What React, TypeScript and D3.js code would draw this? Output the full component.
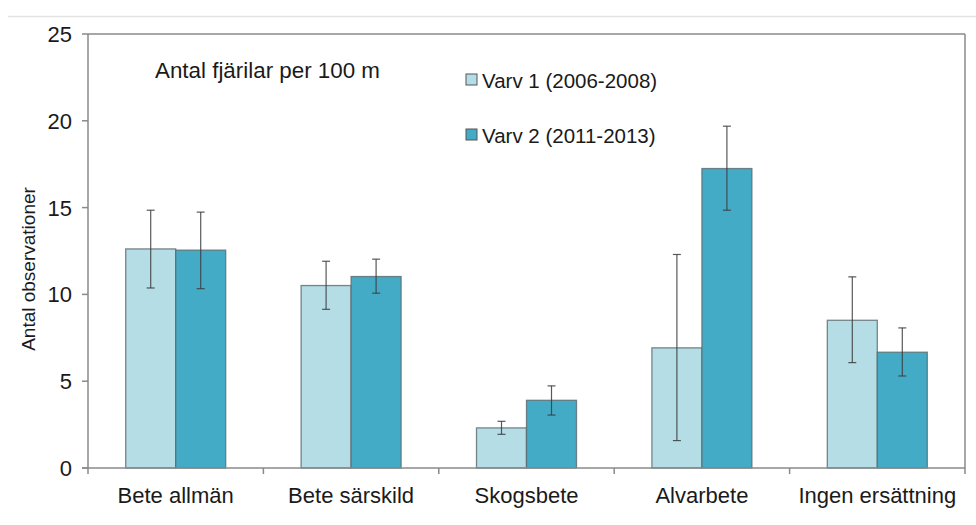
import React from "react";
import * as d3 from "d3";

const categories = ["Bete allmän", "Bete särskild", "Skogsbete", "Alvarbete", "Ingen ersättning"];
const seriesNames = ["Varv 1 (2006-2008)", "Varv 2 (2011-2013)"];
const varv1 = [12.62, 10.51, 2.31, 6.92, 8.51];
const varv1Low = [10.37, 9.14, 1.94, 1.58, 6.07];
const varv1High = [14.85, 11.91, 2.69, 12.3, 11.01];
const varv2 = [12.55, 11.03, 3.9, 17.25, 6.67];
const varv2Low = [10.33, 10.07, 3.05, 14.85, 5.3];
const varv2High = [14.74, 12.03, 4.73, 19.69, 8.07];
const yTicks = [0, 5, 10, 15, 20, 25];

const colors = ["#b4dde6", "#44abc6"];
const font = "'Liberation Sans', Arial, sans-serif";

export default function App() {
  const left = 88, right = 965, top = 34, bottom = 468;
  const x = d3.scaleBand<string>().domain(categories).range([left, right]);
  const inner = d3.scaleBand<string>().domain(["0", "1"]).range([0, 100]);
  const y = d3.scaleLinear().domain([0, 25]).range([bottom, top]);
  const series = [
    { vals: varv1, lo: varv1Low, hi: varv1High },
    { vals: varv2, lo: varv2Low, hi: varv2High },
  ];
  const bw = x.bandwidth();
  return (
    <svg width={976} height={525} style={{ position: "absolute", left: 0, top: 0, background: "#fff" }} fontFamily={font}>
      <line x1={8} x2={976} y1={16.5} y2={16.5} stroke="#e2e2e2" strokeWidth={1.5} />
      {/* frame */}
      <line x1={left} x2={right} y1={top} y2={top} stroke="#8a8a8a" strokeWidth={1.5} />
      <line x1={right} x2={right} y1={top} y2={bottom} stroke="#8a8a8a" strokeWidth={1.5} />
      {/* bars */}
      {series.map((s, si) =>
        categories.map((c, i) => {
          const bx = (x(c) as number) + bw / 2 - 50 + (inner(String(si)) as number);
          const w = inner.bandwidth();
          return (
            <rect key={`b${si}-${i}`} x={bx} y={y(s.vals[i])} width={w} height={y(0) - y(s.vals[i])}
              fill={colors[si]} stroke="#5a6a6e" strokeOpacity={0.8} strokeWidth={1.3} />
          );
        })
      )}
      {/* error bars */}
      {series.map((s, si) =>
        categories.map((c, i) => {
          const cx = (x(c) as number) + bw / 2 - 50 + (inner(String(si)) as number) + inner.bandwidth() / 2;
          return (
            <g key={`e${si}-${i}`} stroke="#3c3c3c" strokeWidth={1.2} strokeOpacity={0.85}>
              <line x1={cx} x2={cx} y1={y(s.hi[i])} y2={y(s.lo[i])} />
              <line x1={cx - 4} x2={cx + 4} y1={y(s.hi[i])} y2={y(s.hi[i])} />
              <line x1={cx - 4} x2={cx + 4} y1={y(s.lo[i])} y2={y(s.lo[i])} />
            </g>
          );
        })
      )}
      {/* y axis */}
      <line x1={left} x2={left} y1={top} y2={bottom} stroke="#8a8a8a" strokeWidth={1.5} />
      {yTicks.map((t) => (
        <g key={t}>
          <line x1={left - 6} x2={left} y1={y(t)} y2={y(t)} stroke="#8a8a8a" strokeWidth={1.5} />
          <text x={left - 16} y={y(t)} dy="0.36em" textAnchor="end" fontSize={22} fill="#1a1a1a">{t}</text>
        </g>
      ))}
      {/* x axis */}
      <line x1={left - 6} x2={right} y1={bottom} y2={bottom} stroke="#8a8a8a" strokeWidth={1.5} />
      {[...categories.map((c) => x(c) as number), right].map((px, i) => (
        <line key={i} x1={px} x2={px} y1={bottom} y2={bottom + 6} stroke="#8a8a8a" strokeWidth={1.5} />
      ))}
      {categories.map((c) => (
        <text key={c} x={(x(c) as number) + bw / 2} y={503} textAnchor="middle" fontSize={22} fill="#1a1a1a">{c}</text>
      ))}
      <text transform={`translate(35,269) rotate(-90)`} textAnchor="middle" fontSize={19} fill="#1a1a1a">Antal observationer</text>
      <text x={155} y={78} fontSize={22} fill="#1a1a1a" textLength={225} lengthAdjust="spacingAndGlyphs">Antal fjärilar per 100 m</text>
      {/* legend */}
      {seriesNames.map((n, i) => (
        <g key={n}>
          <rect x={466} y={74 + i * 55} width={11} height={11} fill={colors[i]} stroke="#555" strokeWidth={1} />
          <text x={482} y={88 + i * 55} fontSize={20.5} fill="#1a1a1a">{n}</text>
        </g>
      ))}
    </svg>
  );
}
